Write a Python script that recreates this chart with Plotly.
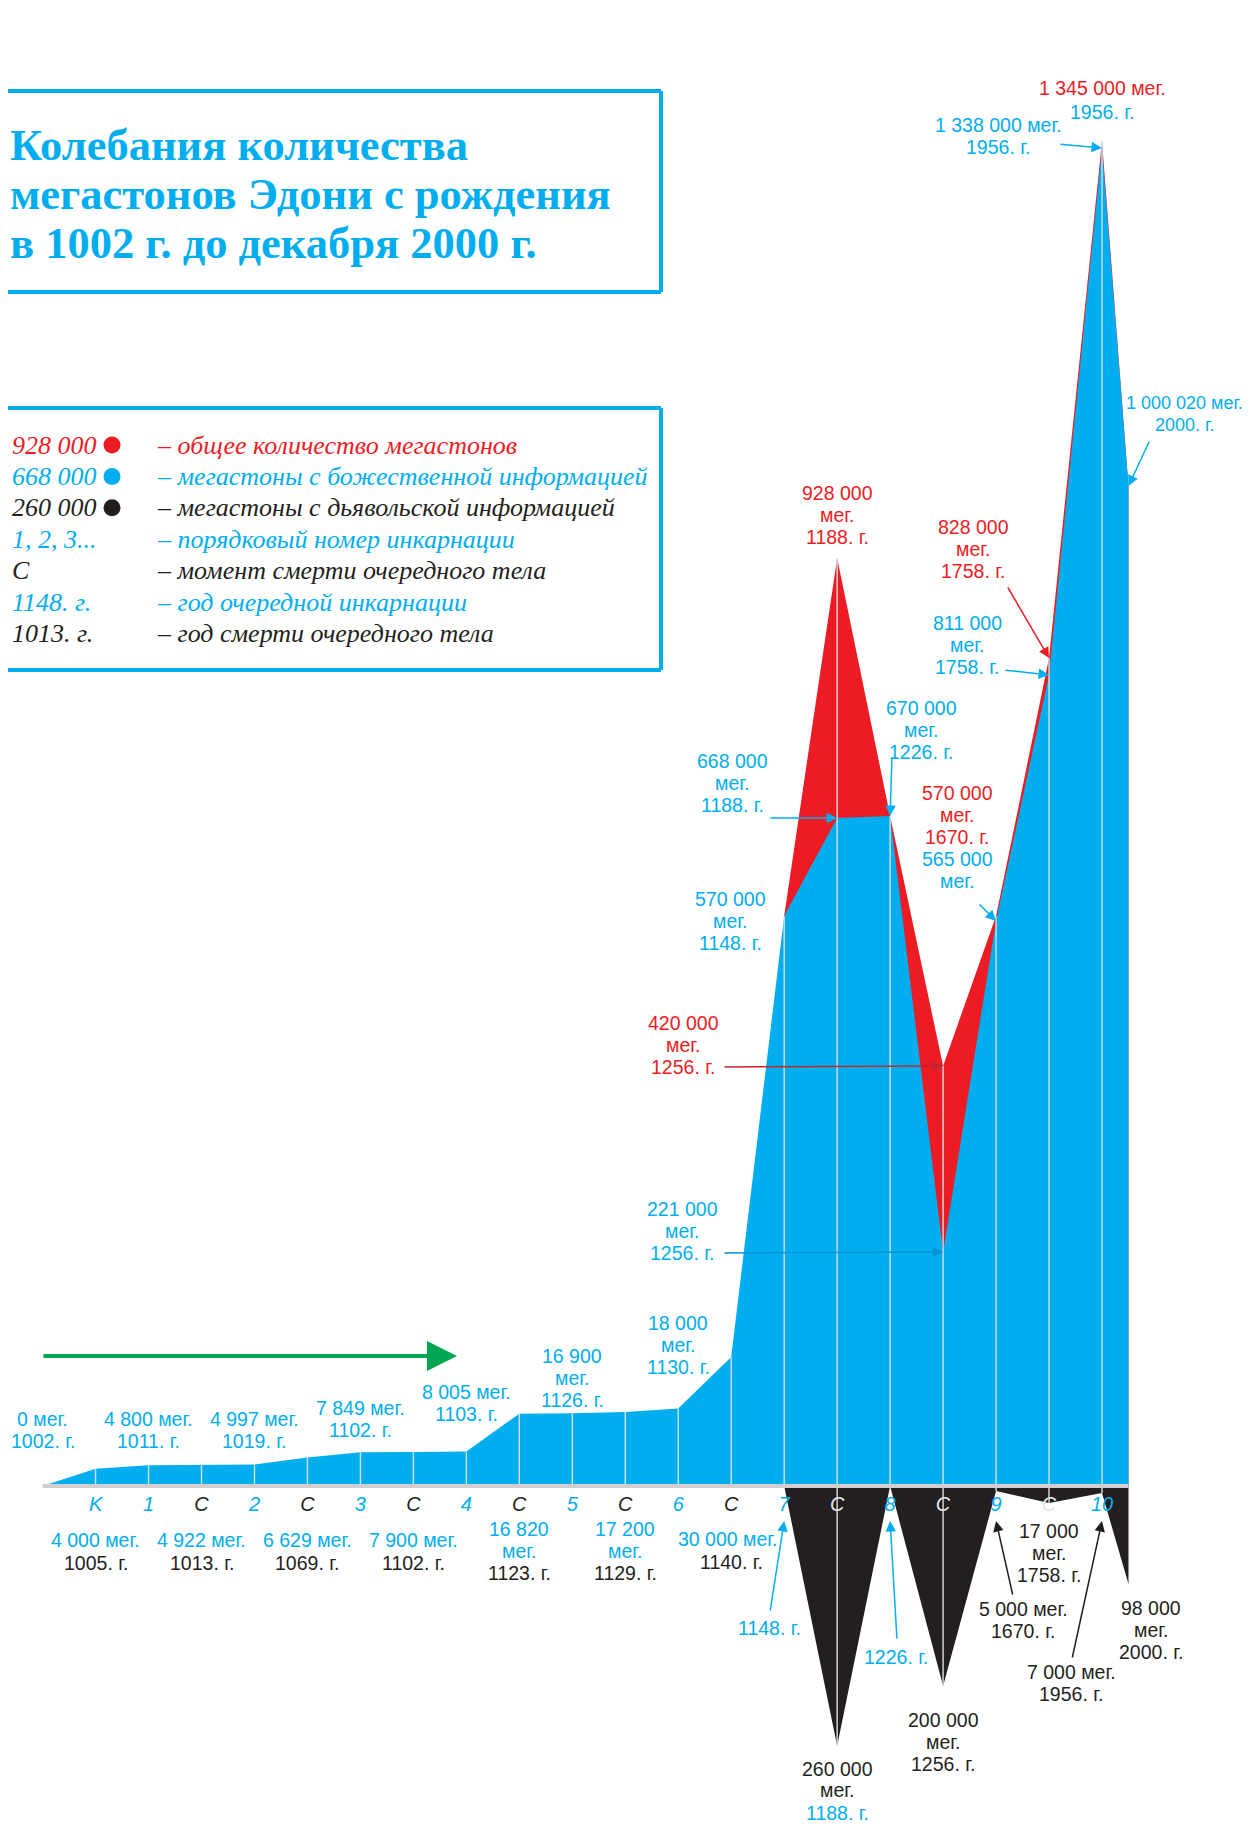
import numpy as np
import plotly.graph_objects as go

# ---------------- data ----------------
POS_LABELS = ["", "K", "1", "C", "2", "C", "3", "C", "4", "C", "5", "C",
              "6", "C", "7", "C", "8", "C", "9", "C", "10", ""]
YEARS = [1002, 1005, 1011, 1013, 1019, 1069, 1102, 1102, 1103, 1123, 1126,
         1129, 1130, 1140, 1148, 1188, 1226, 1256, 1670, 1758, 1956, 2000]
# megastons with divine information (blue)
DIVINE = [0, 4000, 4800, 4922, 4997, 6629, 7849, 7900, 8005, 16820, 16900,
          17200, 18000, 30000, 570000, 668000, 670000, 221000, 565000,
          811000, 1338000, 1000020]
# total amount of megastons (red)
TOTAL = [None] * 14 + [570000, 928000, 670000, 420000, 570000, 828000,
                       1345000, 1000020]
# megastons with devilish information (black, drawn downward)
DEVIL = [None] * 14 + [0, 260000, 0, 200000, 5000, 17000, 7000, 98000]

# display scale of the upper part: the early period (< 30 000) is magnified
SCALE_V = [0, 30000, 250000, 2000000]
SCALE_D = [0, 129000, 250000, 2000000]

# ---------------- styling / geometry ----------------
W, H = 1254, 1829
OFF = 8                          # default page margin around the figure
FIG_W, FIG_H = W - OFF, H - OFF
BLUE, RED, BLACK, GREEN = "#00aeef", "#ed1c24", "#231f20", "#00a651"
SANS = "Liberation Sans, Arial, sans-serif"
SERIF = "Liberation Serif, Times New Roman, serif"
LBL = 19.5
LH = 22

X0_PX, DX = 42.6, 52.97          # page pixel of first slot, pixels per slot
BASE_PX, UPP = 1486.0, 1000.0    # page row of the baseline, units per pixel
XMIN = -(X0_PX - OFF) / DX
XMAX = XMIN + FIG_W / DX
YMAX = (BASE_PX - OFF) * UPP
YMIN = YMAX - FIG_H * UPP


def disp(v):
    return float(np.interp(v, SCALE_V, SCALE_D))


def P(xp, yp):
    return (xp - X0_PX) / DX, (BASE_PX - yp) * UPP


def xpx(xv):
    return X0_PX + xv * DX


def ypx(d):
    return BASE_PX - d / UPP


def meg(v):
    return f"{v:,}".replace(",", " ")


def yr(y):
    return f"{y}. г."


n = len(DIVINE)
x = np.arange(n, dtype=float)
x[-1] = x[-2] + 0.5  # December 2000: half a step after the 10th incarnation

blue_d = [disp(v) for v in DIVINE]
red_idx = [i for i in range(n) if TOTAL[i] is not None]
red_x = [x[i] for i in red_idx]
red_d = [disp(TOTAL[i]) for i in red_idx]
dev_idx = [i for i in range(n) if DEVIL[i] is not None]
dev_x = [x[i] for i in dev_idx]
dev_d = [-DEVIL[i] for i in dev_idx]

fig = go.Figure()
fig.add_trace(go.Scatter(x=red_x, y=red_d, mode="lines", fill="tozeroy",
                         fillcolor=RED, line=dict(width=0, color=RED),
                         hoverinfo="skip"))
fig.add_trace(go.Scatter(x=x, y=blue_d, mode="lines", fill="tozeroy",
                         fillcolor=BLUE, line=dict(width=0, color=BLUE),
                         hoverinfo="skip"))
fig.add_trace(go.Scatter(x=dev_x, y=dev_d, mode="lines", fill="tozeroy",
                         fillcolor=BLACK, line=dict(width=0, color=BLACK),
                         hoverinfo="skip"))

# thin separators at every slot
vx, vy = [], []
for i in range(1, n - 1):
    top = blue_d[i]
    if TOTAL[i] is not None:
        top = max(top, disp(TOTAL[i]))
    bot = -DEVIL[i] if DEVIL[i] is not None else 0
    vx += [x[i], x[i], None]
    vy += [bot, top, None]
fig.add_trace(go.Scatter(x=vx, y=vy, mode="lines",
                         line=dict(color="#d9dde0", width=1.4),
                         hoverinfo="skip"))
# baseline
fig.add_trace(go.Scatter(x=[x[0], x[-1]], y=[0, 0], mode="lines",
                         line=dict(color="#cfcfcf", width=4),
                         hoverinfo="skip"))

ann = []
shapes = []


def text(xp, yp, s, color, size=LBL, xanchor="center", family=SANS, lh=LH):
    lines = s.split("<br>")
    m = len(lines)
    for k, line in enumerate(lines):
        xd, yd = P(xp, yp + (k - (m - 1) / 2) * lh)
        ann.append(dict(x=xd, y=yd, xref="x", yref="y", text=line,
                        showarrow=False,
                        font=dict(family=family, size=size, color=color),
                        xanchor=xanchor, yanchor="middle", align="center"))


def arrow(tail, tip, color, width=1.5, size=1.4):
    ax, ay = P(*tail)
    ann.append(dict(x=tip[0], y=tip[1], xref="x", yref="y", ax=ax, ay=ay,
                    axref="x", ayref="y", text="", showarrow=True,
                    arrowhead=2, arrowsize=size, arrowwidth=width,
                    arrowcolor=color, standoff=0, startstandoff=0))


# ---- labels above the early, small values ----
for i, yp in [(0, 1430), (2, 1430), (4, 1430), (6, 1419), (8, 1403)]:
    text(xpx(x[i]), yp, f"{meg(DIVINE[i])} мег.<br>{yr(YEARS[i])}", BLUE)
for i, yp in [(10, 1378), (12, 1345)]:
    text(xpx(x[i]), yp, f"{meg(DIVINE[i])}<br>мег.<br>{yr(YEARS[i])}", BLUE)

# ---- labels below the baseline (deaths) ----
for i in (1, 3, 5, 7):
    text(xpx(x[i]), 1540, f"{meg(DIVINE[i])} мег.", BLUE)
    text(xpx(x[i]), 1563, yr(YEARS[i]), BLACK)
for i in (9, 11):
    text(xpx(x[i]), 1540, f"{meg(DIVINE[i])}<br>мег.", BLUE)
    text(xpx(x[i]), 1573, yr(YEARS[i]), BLACK)
text(xpx(x[13]) - 4, 1539, f"{meg(DIVINE[13])} мег.", BLUE)
text(xpx(x[13]), 1562, yr(YEARS[13]), BLACK)

# ---- incarnation 7 ----
text(730, ypx(blue_d[14]) + 5, f"{meg(DIVINE[14])}<br>мег.<br>{yr(YEARS[14])}", BLUE)

# ---- death 1188 ----
tip = ypx(blue_d[15])
text(732, tip - 35, f"{meg(DIVINE[15])}<br>мег.<br>{yr(YEARS[15])}", BLUE)
arrow((769, tip), (x[15], blue_d[15]), BLUE)
rt = ypx(disp(TOTAL[15]))
text(xpx(x[15]), rt - 43, f"{meg(TOTAL[15])}<br>мег.<br>{yr(YEARS[15])}", RED)

# ---- incarnation 8 ----
tip = ypx(blue_d[16])
text(921, tip - 86, f"{meg(DIVINE[16])}<br>мег.<br>{yr(YEARS[16])}", BLUE)
arrow((892, tip - 60), (x[16], blue_d[16]), BLUE)

# ---- death 1256 ----
rt = ypx(disp(TOTAL[17]))
text(683, rt - 21, f"{meg(TOTAL[17])}<br>мег.<br>{yr(YEARS[17])}", RED)
arrow((723, rt + 1), (x[17], disp(TOTAL[17])), "#c1272d")
tip = ypx(blue_d[17])
text(682, tip - 21, f"{meg(DIVINE[17])}<br>мег.<br>{yr(YEARS[17])}", BLUE)
arrow((723, tip + 1), (x[17], blue_d[17]), "#0093d0")

# ---- incarnation 9 ----
tip = ypx(blue_d[18])
text(957, tip - 106, f"{meg(TOTAL[18])}<br>мег.<br>{yr(YEARS[18])}", RED)
text(957, tip - 51, f"{meg(DIVINE[18])}<br>мег.", BLUE)
arrow((978, tip - 18), (x[18], blue_d[18]), BLUE)

# ---- death 1758 ----
text(973, 549, f"{meg(TOTAL[19])}<br>мег.<br>{yr(YEARS[19])}", RED)
arrow((1007, 586), (x[19], disp(TOTAL[19])), RED)
text(967, 645, f"{meg(DIVINE[19])}<br>мег.<br>{yr(YEARS[19])}", BLUE)
arrow((1004, 670), (x[19], blue_d[19]), BLUE)

# ---- incarnation 10 (1956) ----
rt = ypx(disp(TOTAL[20]))
text(xpx(x[20]), rt - 53, f"{meg(TOTAL[20])} мег.", RED)
text(xpx(x[20]), rt - 29, yr(YEARS[20]), BLUE)
tip = ypx(blue_d[20])
text(998, tip - 12, f"{meg(DIVINE[20])} мег.<br>{yr(YEARS[20])}", BLUE)
arrow((1059, tip - 4), (x[20], blue_d[20]), BLUE)

# ---- December 2000 ----
tip = ypx(blue_d[21])
text(1184, tip - 72, f"{meg(DIVINE[21])} мег.<br>{yr(YEARS[21])}", BLUE, size=18)
arrow((1150, tip - 46), (x[21], blue_d[21]), BLUE)

# ---- devilish part labels ----
tick_tip = P(0, 1521)[1]
text(769, 1628, yr(YEARS[14]), BLUE)
arrow((770, 1612), (x[14], tick_tip), BLUE)
text(896, 1657, yr(YEARS[16]), BLUE)
arrow((897, 1640), (x[16], tick_tip), BLUE)
text(xpx(x[15]), 1779, f"{meg(DEVIL[15])}<br>мег.", BLACK, lh=21)
text(xpx(x[15]), 1813, yr(YEARS[15]), BLUE)
text(xpx(x[17]), 1742, f"{meg(DEVIL[17])}<br>мег.<br>{yr(YEARS[17])}", BLACK)
text(xpx(x[19]), 1553, f"{meg(DEVIL[19])}<br>мег.<br>{yr(YEARS[19])}", BLACK)
text(1023, 1620, f"{meg(DEVIL[18])} мег.<br>{yr(YEARS[18])}", BLACK)
arrow((1013, 1596), (x[18], tick_tip), BLACK)
text(1071, 1683, f"{meg(DEVIL[20])} мег.<br>{yr(YEARS[20])}", BLACK)
arrow((1072, 1659), (x[20], tick_tip), BLACK)
text(1151, 1630, f"{meg(DEVIL[21])}<br>мег.<br>{yr(YEARS[21])}", BLACK)

# ---- green time arrow ----
gx0, gy = P(42, 1356)
gx1, _ = P(457, 1356)
ann.append(dict(x=gx1, y=gy, ax=gx0, ay=gy, axref="x", ayref="y", xref="x",
                yref="y", text="", showarrow=True, arrowhead=2, arrowsize=1.5,
                arrowwidth=4, arrowcolor=GREEN, standoff=0))


def open_box(top, bottom, right):
    # frame open at the left page edge: two horizontal rules and a right side
    _, yt = P(0, top)
    xr, yb = P(right, bottom)
    xl = XMIN
    for xs, ys in (([xl, xr], [yt, yt]), ([xr, xr], [yt, yb]),
                   ([xl, xr], [yb, yb])):
        fig.add_trace(go.Scatter(x=xs, y=ys, mode="lines",
                                 line=dict(color=BLUE, width=4),
                                 hoverinfo="skip", cliponaxis=False))


# ---- title box ----
open_box(91, 292, 661)
for yp, s in [(145, "Колебания количества"),
              (194, "мегастонов Эдони с рождения"),
              (243, "в 1002 г. до декабря 2000 г.")]:
    text(8, yp, f"<b>{s}</b>", BLUE, size=44.5, xanchor="left", family=SERIF)

# ---- legend box ----
open_box(408, 670, 661)
legend_rows = [
    (meg(TOTAL[15]), RED, True, "общее количество мегастонов"),
    (meg(DIVINE[15]), BLUE, True, "мегастоны с божественной информацией"),
    (meg(DEVIL[15]), BLACK, True, "мегастоны с дьявольской информацией"),
    ("1, 2, 3...", BLUE, False, "порядковый номер инкарнации"),
    ("C", BLACK, False, "момент смерти очередного тела"),
    (yr(YEARS[14]), BLUE, False, "год очередной инкарнации"),
    (yr(YEARS[3]), BLACK, False, "год смерти очередного тела"),
]
for k, (lab, col, dot, desc) in enumerate(legend_rows):
    yp = 445 + k * 31.4
    text(10, yp, f"<i>{lab}</i>", col, size=26, xanchor="left", family=SERIF)
    if dot:
        cx0, cy0 = P(103.5, yp - 8.5)
        cx1, cy1 = P(120.5, yp + 8.5)
        shapes.append(dict(type="circle", xref="x", yref="y", x0=cx0, y0=cy0,
                           x1=cx1, y1=cy1, fillcolor=col, line=dict(width=0)))
    text(155, yp, f"<i>– {desc}</i>", col, size=26, xanchor="left", family=SERIF)

# ---- slot labels on the time axis ----
tickvals, ticktext = [], []
for i in range(1, n - 1):
    lab = POS_LABELS[i]
    if lab == "C":
        col = "#e6e6e6" if DEVIL[i] else BLACK
    else:
        col = BLUE
    tickvals.append(x[i])
    ticktext.append(f"<span style='color:{col}'><i>{lab}</i></span>")

fig.update_layout(
    width=FIG_W, height=FIG_H, margin=dict(l=0, r=0, t=0, b=0),
    paper_bgcolor="white", plot_bgcolor="white", showlegend=False,
    xaxis=dict(range=[XMIN, XMAX], showgrid=False, zeroline=False,
               showline=False, ticks="", tickvals=tickvals, ticktext=ticktext,
               tickfont=dict(family=SANS, size=20, color=BLUE),
               anchor="free", position=(FIG_H - (BASE_PX - OFF)) / FIG_H,
               ticklabelstandoff=4, fixedrange=True),
    yaxis=dict(range=[YMIN, YMAX], visible=False, fixedrange=True),
    annotations=ann, shapes=shapes,
)
fig.write_html("out.html")
